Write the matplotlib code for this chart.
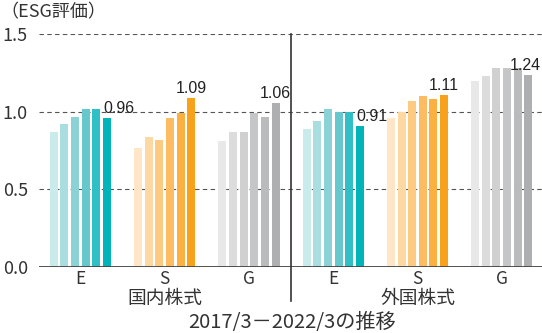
import matplotlib
matplotlib.use("Agg")
import matplotlib.pyplot as plt
import numpy as np

plt.rcParams['font.family'] = ['Noto Sans CJK JP', 'DejaVu Sans']

# Data: six yearly values (2017/3 -> 2022/3) for each factor
categories = ["E", "S", "G", "E", "S", "G"]
markets = ["国内株式", "外国株式"]
domestic_E = [0.87, 0.92, 0.97, 1.02, 1.02, 0.96]
domestic_S = [0.77, 0.84, 0.82, 0.96, 0.99, 1.09]
domestic_G = [0.81, 0.87, 0.87, 0.99, 0.97, 1.06]
foreign_E = [0.89, 0.94, 1.02, 1.00, 1.00, 0.91]
foreign_S = [0.96, 1.00, 1.07, 1.10, 1.08, 1.11]
foreign_G = [1.20, 1.23, 1.28, 1.28, 1.28, 1.24]
series = [domestic_E, domestic_S, domestic_G, foreign_E, foreign_S, foreign_G]
yticks = [0.0, 0.5, 1.0, 1.5]

palette = {
    "E": ["#c9ebec", "#a9dde0", "#8ad2d6", "#66c7cc", "#2fbfc6", "#00b4b9"],
    "S": ["#fee6c6", "#fed8a2", "#fdca82", "#fdbc62", "#fbb040", "#f8a21b"],
    "G": ["#e8e8e9", "#dcdcdd", "#d0d0d1", "#c5c6c7", "#babbbc", "#aeafb0"],
}

fig = plt.figure(figsize=(5.42, 3.33), dpi=100)
ax = fig.add_axes([0.072, 0.198, 0.928, 0.699])

step = 0.1265
width = 0.095
text_color = "#333333"
value_font = ["Liberation Sans", "DejaVu Sans"]

for g, (cat, vals) in enumerate(zip(categories, series)):
    xs = g + (np.arange(len(vals)) - 2.5) * step
    ax.bar(xs, vals, width=width, color=palette[cat], zorder=3)
    last_x, last_v = xs[-1], vals[-1]
    if cat == "E":
        x_txt, ha = last_x - 0.04, "left"
    elif g == 5:
        x_txt, ha = last_x - 0.04, "center"
    else:
        x_txt, ha = last_x, "center"
    ax.text(x_txt, last_v + 0.012, f"{last_v:.2f}", ha=ha, va="bottom",
            fontsize=11.5, color="#222222", family=value_font, zorder=4)

ax.set_xlim(-0.49, 5.477)
ax.set_ylim(0, 1.5)
ax.set_yticks(yticks)
ax.set_yticklabels([f"{v:.1f}" for v in yticks], fontsize=13, color=text_color)
ax.set_xticks(range(len(categories)))
ax.set_xticklabels(categories, fontsize=12.5, color=text_color)
ax.tick_params(axis="both", length=0)
ax.tick_params(axis="y", pad=8)
ax.tick_params(axis="x", pad=2)

for s in ax.spines.values():
    s.set_visible(False)

for v in yticks[1:]:
    ax.axhline(v, color="#555555", lw=0.8, ls=(0, (4, 3)), zorder=1)
ax.axhline(0, color="#444444", lw=1.3, zorder=4)

# divider between domestic and foreign equities
ax.plot([2.5, 2.5], [1.5, -0.22], color="#333333", lw=1.2, clip_on=False, zorder=5)

for x, label in zip([1, 4], markets):
    ax.text(x, -0.2, label, ha="center", va="center", fontsize=13.5,
            color=text_color, clip_on=False)

fig.text(0.538, 0.033, "2017/3－2022/3の推移", ha="center", va="center",
         fontsize=14.5, color=text_color)
fig.text(0.0, 0.962, "（ESG評価）", ha="left", va="center", fontsize=13, color=text_color)

fig.savefig("out.png", dpi=100)
